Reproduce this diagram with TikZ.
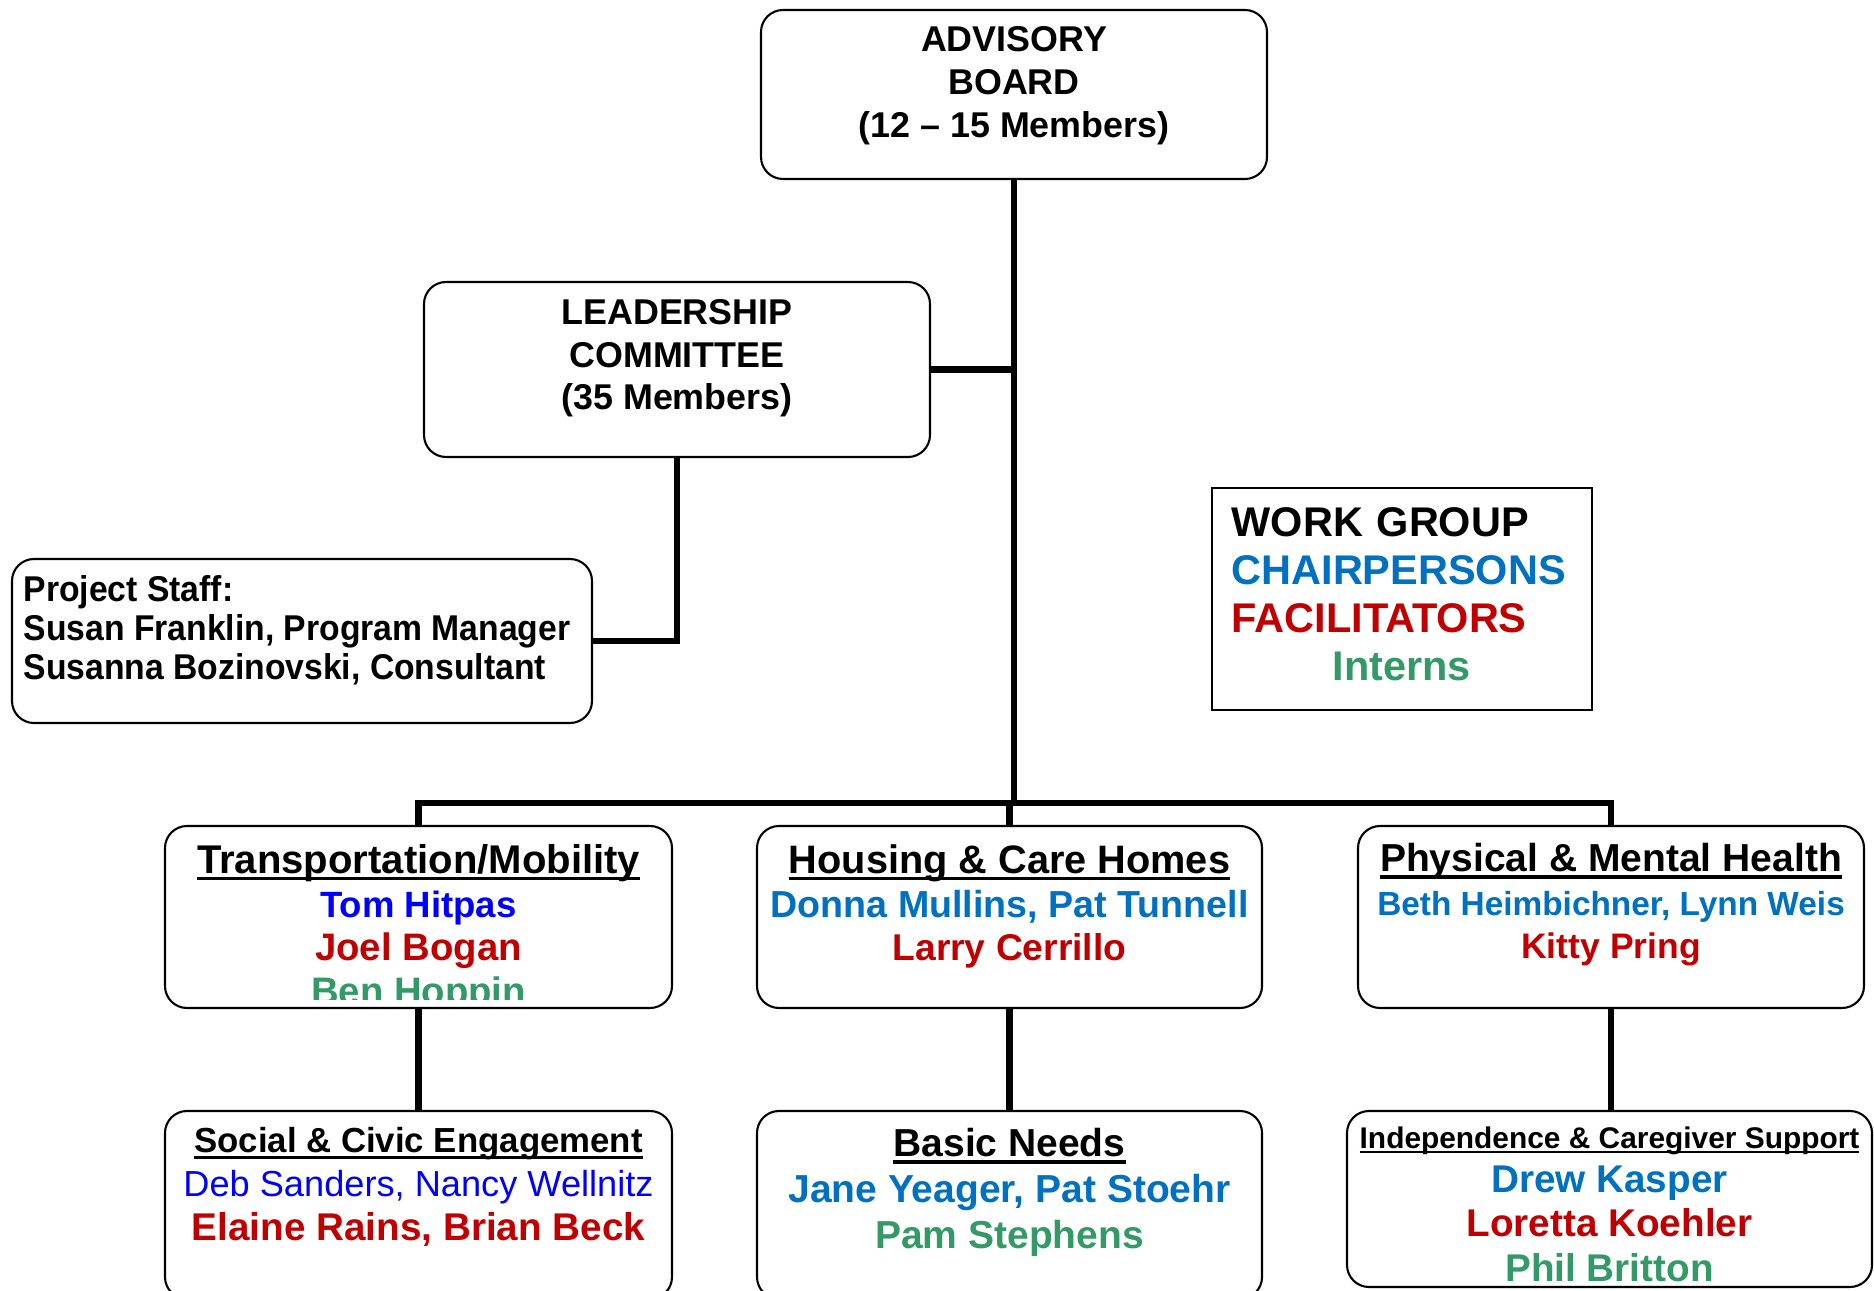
\documentclass[tikz,border=0pt]{standalone}
\usepackage{fontspec}
\setmainfont{Liberation Sans}
\newfontfamily\staffFont[FakeStretch=0.94]{Liberation Sans}
\usetikzlibrary{positioning}

\definecolor{chairBlue}{RGB}{0,112,192}
\definecolor{pureBlue}{RGB}{0,0,255}
\definecolor{facRed}{RGB}{192,0,0}
\definecolor{internGreen}{RGB}{51,153,102}

\newsavebox{\hdrbox}
\newcommand{\hdr}[1]{\sbox{\hdrbox}{#1}\rlap{\rule[-0.17em]{\wd\hdrbox}{0.085em}}\usebox{\hdrbox}}
\newcommand{\sz}[1]{\fontsize{#1}{12.4}\selectfont}

\begin{document}
\begin{tikzpicture}
[boxDecorate/.style={draw,rounded corners=0.22cm,line width=0.6pt,inner sep=0pt},%
  keyDecorate/.style={draw,line width=0.6pt,inner sep=0pt},%
  textDecorate/.style={inner sep=0pt,align=center,font=\bfseries\sz{10.4}},%
  lineDecorate/.style={-,line width=1.8pt}]
\useasboundingbox (0,0) rectangle (18.74,12.90);
%% boxes
\foreach \nodename/\x/\y/\w/\h in {adv/10.14/11.955/5.06/1.69, lead/6.77/9.205/5.06/1.75,
    staff/3.02/6.49/5.80/1.64, trans/4.185/3.73/5.07/1.82, hous/10.095/3.73/5.05/1.82,
    phys/16.11/3.73/5.06/1.82, soc/4.185/0.85/5.07/1.88, basic/10.095/0.85/5.05/1.88,
    indep/16.095/0.91/5.25/1.76} {
  \node (\nodename) at (\x,\y) [boxDecorate,minimum width=\w cm,minimum height=\h cm] {};
}
\node (key) at (14.02,6.91) [keyDecorate,minimum width=3.8cm,minimum height=2.22cm] {};
\coordinate (bus) at (10.14,4.87);
%% texts
\node (advText) [textDecorate,font=\bfseries\fontsize{10.2}{12.2}\selectfont,below=0.17cm of adv.north]
  {ADVISORY\\BOARD\\(12 – 15 Members)};
\node (leadText) [textDecorate,font=\bfseries\fontsize{10.2}{12.1}\selectfont,below=0.18cm of lead.north]
  {LEADERSHIP\\COMMITTEE\\(35 Members)};
\node (staffText) [textDecorate,align=left,font=\staffFont\bfseries\fontsize{10.2}{11.1}\selectfont,
  below right=0.17cm and 0.12cm of staff.north west]
  {Project Staff:\\Susan Franklin, Program Manager\\Susanna Bozinovski, Consultant};
\node (keyText) [textDecorate,align=left,text width=3.4cm,font=\bfseries\fontsize{11.8}{13.6}\selectfont,
  below right=0.2cm and 0.2cm of key.north west]
  {WORK GROUP\\\textcolor{chairBlue}{CHAIRPERSONS}\\\textcolor{facRed}{FACILITATORS}\\
   \makebox[3.4cm]{\textcolor{internGreen}{Interns}}};
\begin{scope}
  \clip ([yshift=0.1cm]trans.south west) rectangle (trans.north east);
  \node (transText) [textDecorate,below=0.19cm of trans.north]
    {{\sz{11.4}\hdr{Transportation/Mobility}}\\\textcolor{pureBlue}{Tom Hitpas}\\
     {\sz{10.9}\color{facRed}Joel Bogan}\\{\sz{10.9}\color{internGreen}Ben Hoppin}};
\end{scope}
\node (housText) [textDecorate,below=0.19cm of hous.north]
  {{\sz{11.3}\hdr{Housing \& Care Homes}}\\{\sz{10.7}\color{chairBlue}Donna Mullins, Pat Tunnell}\\
   {\sz{10.6}\color{facRed}Larry Cerrillo}};
\node (physText) [textDecorate,font=\bfseries\fontsize{10.4}{12.3}\selectfont,below=0.18cm of phys.north]
  {{\fontsize{11.1}{12.3}\selectfont\hdr{Physical \& Mental Health}}\\
   {\fontsize{9.5}{12.3}\selectfont\color{chairBlue}Beth Heimbichner, Lynn Weis}\\
   {\fontsize{10.1}{12.3}\selectfont\color{facRed}Kitty Pring}};
\node (socText) [textDecorate,below=0.17cm of soc.north]
  {{\sz{9.9}\hdr{Social \& Civic Engagement}}\\{\sz{10.3}\mdseries\color{pureBlue}Deb Sanders, Nancy Wellnitz}\\
   {\sz{11}\color{facRed}Elaine Rains, Brian Beck}};
\node (basicText) [textDecorate,font=\bfseries\fontsize{11.1}{13}\selectfont,below=0.18cm of basic.north]
  {\hdr{Basic Needs}\\\textcolor{chairBlue}{Jane Yeager, Pat Stoehr}\\\textcolor{internGreen}{Pam Stephens}};
\node (indepText) [textDecorate,font=\bfseries\fontsize{11}{12.6}\selectfont,below=0.16cm of indep.north]
  {{\fontsize{8.5}{12.6}\selectfont\hdr{Independence \& Caregiver Support}}\\\textcolor{chairBlue}{Drew Kasper}\\
   \textcolor{facRed}{Loretta Koehler}\\\textcolor{internGreen}{Phil Britton}};
%% connectors
\draw[lineDecorate] (adv.south) -- (bus);
\draw[lineDecorate] (lead.east) -- (lead.east -| bus);
\draw[lineDecorate] (lead.south) |- (staff.east);
\draw[lineDecorate] (trans.north) |- (bus) -| (phys.north);
\draw[lineDecorate] (hous.north) -- (hous.north |- bus);
\foreach \startnode/\endnode in {trans/soc, hous/basic, phys/indep} {
  \draw[lineDecorate] (\startnode.south) -- (\startnode.south |- \endnode.north);
}
\end{tikzpicture}
\end{document}
